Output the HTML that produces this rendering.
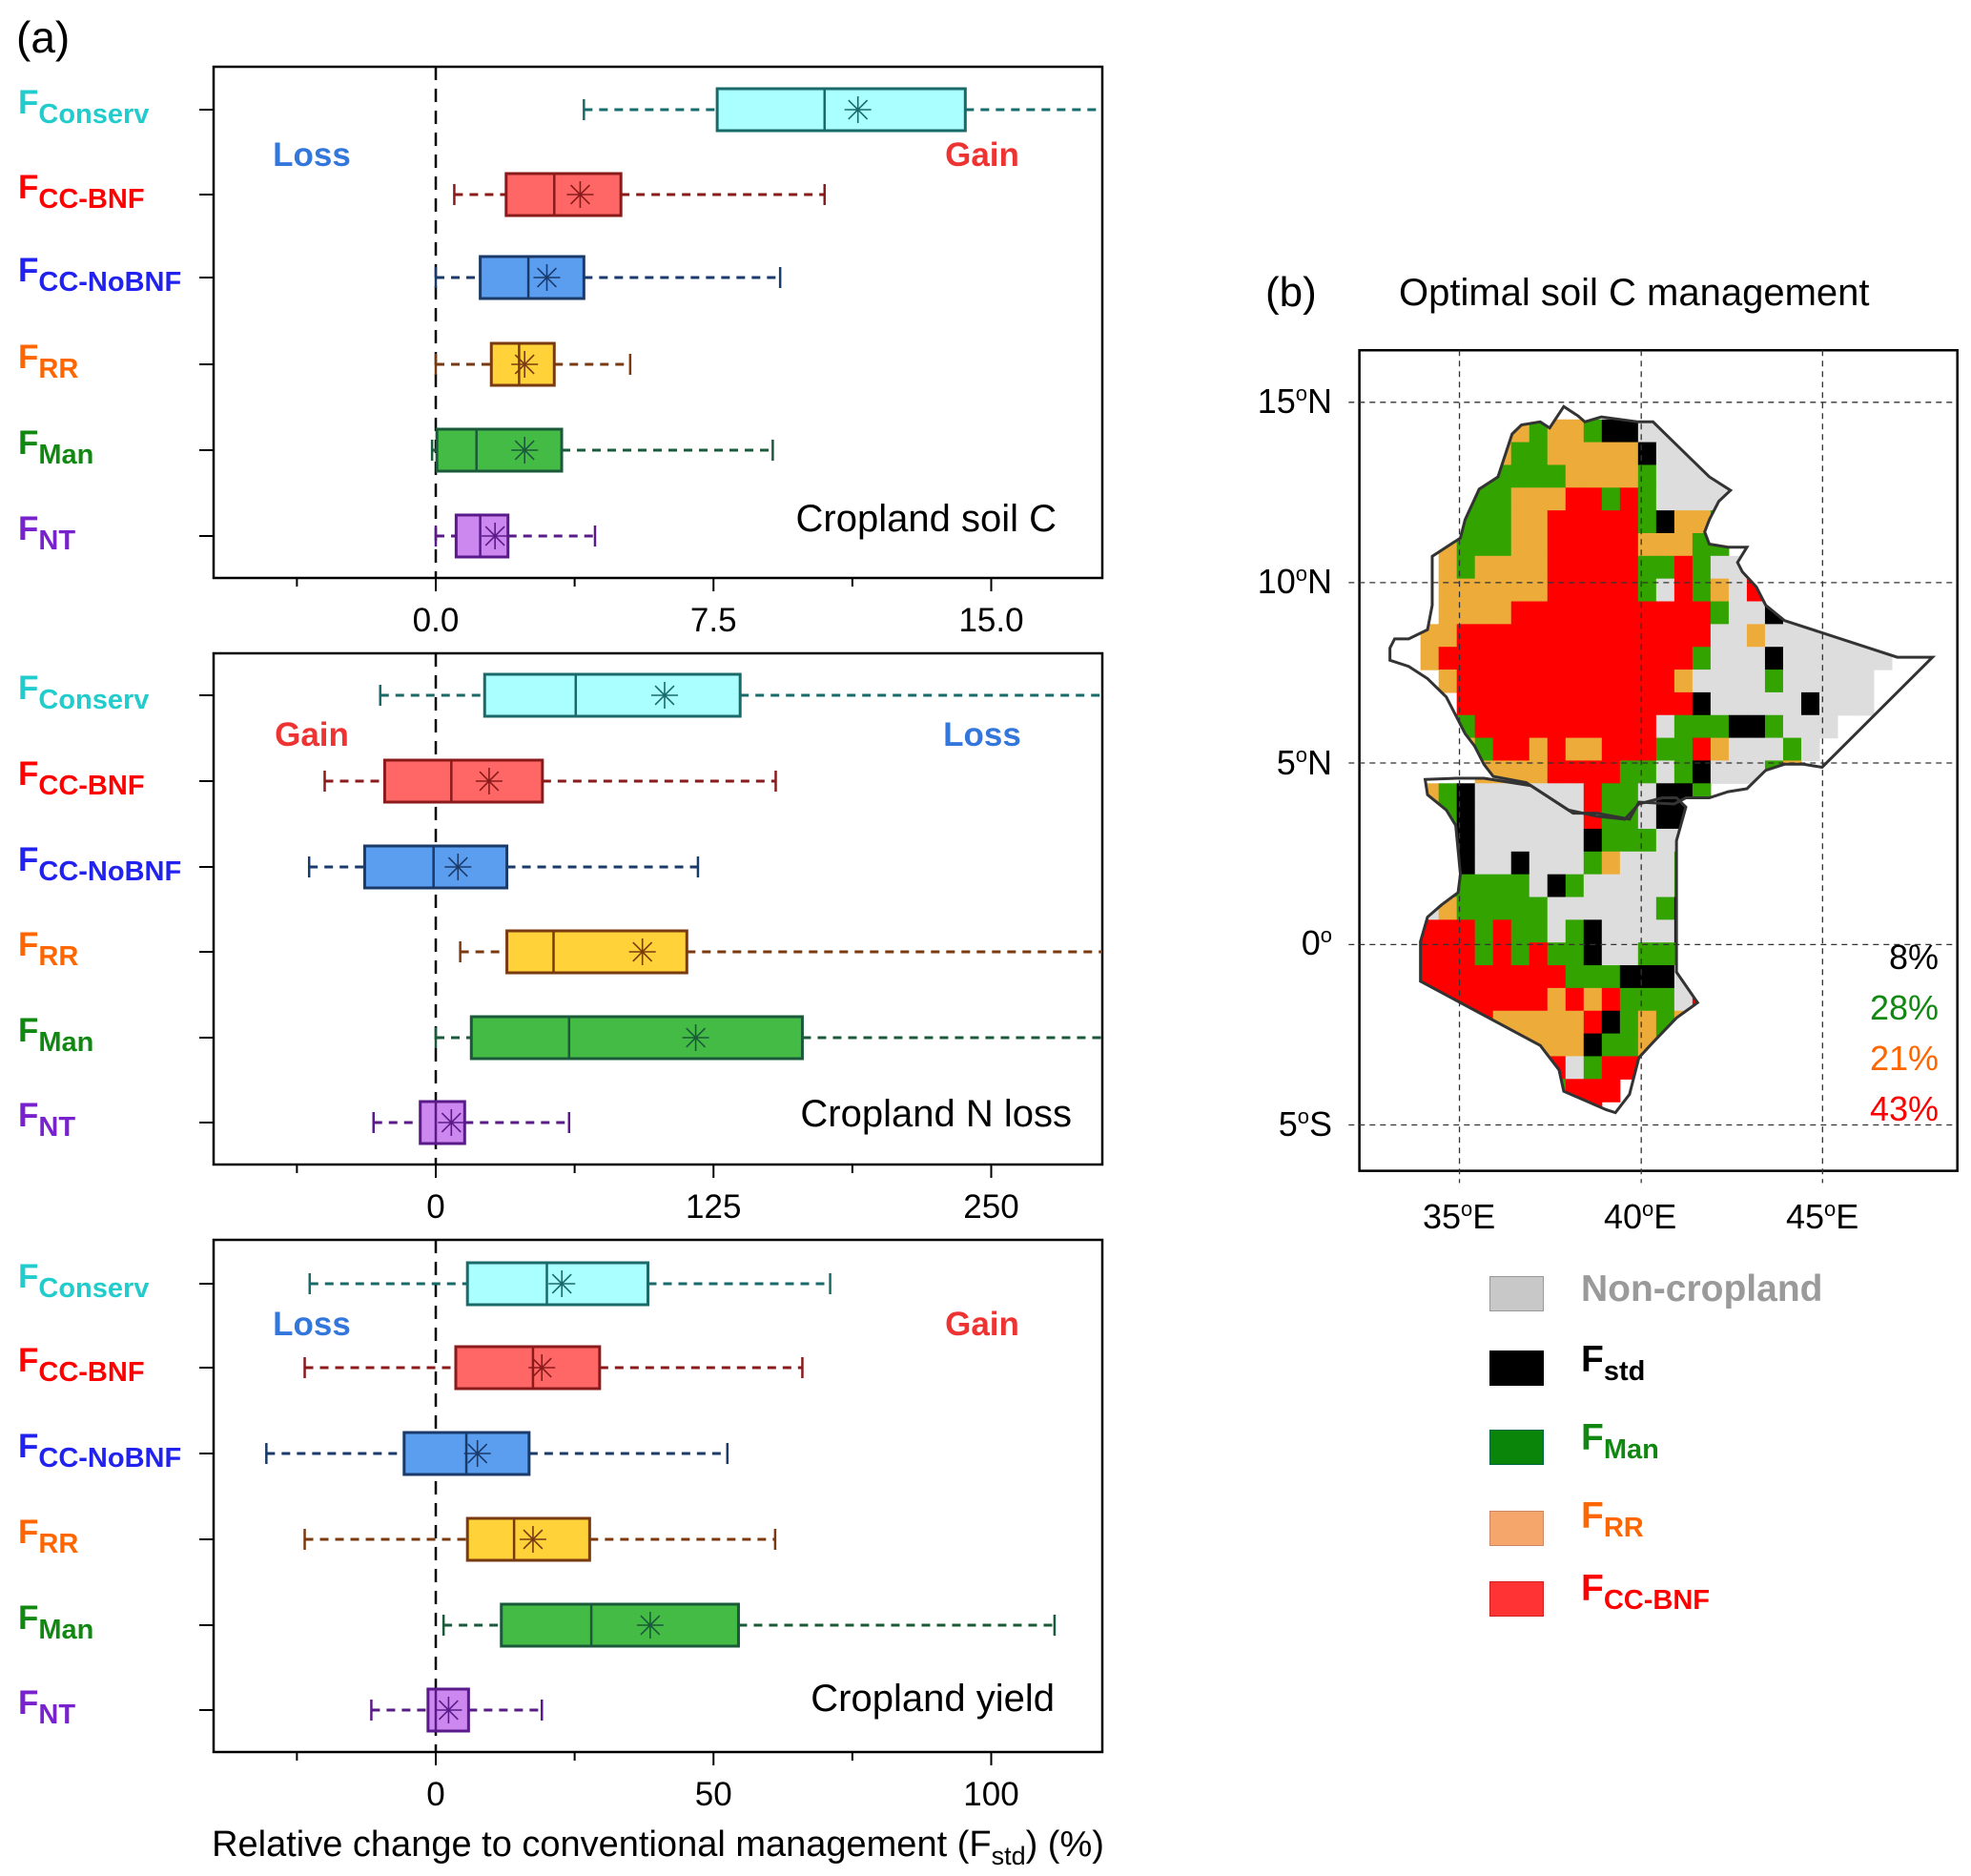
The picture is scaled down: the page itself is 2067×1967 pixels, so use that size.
<!DOCTYPE html>
<html><head><meta charset="utf-8">
<style>
html,body{margin:0;padding:0;background:#fff;}
body{width:2067px;height:1967px;position:relative;overflow:hidden;font-family:"Liberation Sans",Arial,sans-serif;}
svg{position:absolute;left:0;top:0;}
.t{position:absolute;white-space:nowrap;font-family:"Liberation Sans",Arial,sans-serif;}
</style></head>
<body>
<svg id="chart" width="2067" height="1967" viewBox="0 0 2067 1967" font-family="Liberation Sans, Arial, sans-serif"></svg>

<svg id="map" style="left:1300px;top:250px" width="767" height="1000" viewBox="0 0 1557 1560" preserveAspectRatio="none"></svg>

<div class="t" style="left:1327px;top:282px;font-size:44px;">(b)</div>
<div class="t" style="left:1467px;top:285px;font-size:40px;">Optimal soil C management</div>

<div class="t" style="right:670px;top:400px;font-size:36px;">15<sup style="font-size:22px">o</sup>N</div>
<div class="t" style="right:670px;top:589px;font-size:36px;">10<sup style="font-size:22px">o</sup>N</div>
<div class="t" style="right:670px;top:779px;font-size:36px;">5<sup style="font-size:22px">o</sup>N</div>
<div class="t" style="right:670px;top:968px;font-size:36px;">0<sup style="font-size:22px">o</sup></div>
<div class="t" style="right:670px;top:1158px;font-size:36px;">5<sup style="font-size:22px">o</sup>S</div>
<div class="t" style="left:1492px;top:1255px;font-size:36px;">35<sup style="font-size:22px">o</sup>E</div>
<div class="t" style="left:1682px;top:1255px;font-size:36px;">40<sup style="font-size:22px">o</sup>E</div>
<div class="t" style="left:1873px;top:1255px;font-size:36px;">45<sup style="font-size:22px">o</sup>E</div>

<div class="t" style="right:34px;top:983px;font-size:36px;color:#000;">8%</div>
<div class="t" style="right:34px;top:1036px;font-size:36px;color:#118811;">28%</div>
<div class="t" style="right:34px;top:1089px;font-size:36px;color:#ff6600;">21%</div>
<div class="t" style="right:34px;top:1142px;font-size:36px;color:#ff0000;">43%</div>

<div>
<div style="position:absolute;left:1562px;top:1338px;width:57px;height:37px;background:#c8c8c8;border:1px solid #999;box-sizing:border-box"></div>
<div class="t" style="left:1658px;top:1330px;font-size:39px;font-weight:bold;color:#9a9a9a;">Non-cropland</div>
<div style="position:absolute;left:1562px;top:1416px;width:57px;height:37px;background:#000;"></div>
<div class="t" style="left:1658px;top:1404px;font-size:39px;font-weight:bold;color:#000;">F<sub style="font-size:29px">std</sub></div>
<div style="position:absolute;left:1562px;top:1499px;width:57px;height:37px;background:#0a850a;border:1px solid #064;box-sizing:border-box"></div>
<div class="t" style="left:1658px;top:1486px;font-size:39px;font-weight:bold;color:#118811;">F<sub style="font-size:29px">Man</sub></div>
<div style="position:absolute;left:1562px;top:1584px;width:57px;height:37px;background:#f5a66a;border:1px solid #c86;box-sizing:border-box"></div>
<div class="t" style="left:1658px;top:1568px;font-size:39px;font-weight:bold;color:#ff6600;">F<sub style="font-size:29px">RR</sub></div>
<div style="position:absolute;left:1562px;top:1658px;width:57px;height:37px;background:#ff3333;border:1px solid #c22;box-sizing:border-box"></div>
<div class="t" style="left:1658px;top:1644px;font-size:39px;font-weight:bold;color:#ff0000;">F<sub style="font-size:29px">CC-BNF</sub></div>
</div>

<script>
// ---------- chart data ----------
const categories = ["Conserv","CC-BNF","CC-NoBNF","RR","Man","NT"];
const labelColors = ["#22cccc","#ff0000","#2222ee","#ff6600","#118811","#7722cc"];
const fillColors = ["#aaffff","#ff6666","#5b9ef0","#ffd23a","#44bb44","#cc88ee"];
const strokeColors = ["#1a6a6a","#8b1a1a","#1a3a6a","#7a3a10","#1a5a3a","#5a1a8a"];

// Panel 1: Cropland soil C
const soilLow  = [4.0, 0.5, 0.0, 0.0, -0.1, 0.0];
const soilQ1   = [7.6, 1.9, 1.2, 1.5, 0.03, 0.55];
const soilMed  = [10.5, 3.2, 2.5, 2.25, 1.1, 1.2];
const soilMean = [11.4, 3.9, 3.0, 2.4, 2.4, 1.6];
const soilQ3   = [14.3, 5.0, 4.0, 3.2, 3.4, 1.95];
const soilHigh = [20, 10.5, 9.3, 5.25, 9.1, 4.3];
const soilTicks = [-3.75, 0, 3.75, 7.5, 11.25, 15];
const soilTickLabels = ["", "0.0", "", "7.5", "", "15.0"];

// Panel 2: Cropland N loss
const nLow  = [-25, -50, -57, 11, 0, -28];
const nQ1   = [22, -23, -32, 32, 16, -7];
const nMed  = [63, 7, -1, 53, 60, 0];
const nMean = [103, 24, 10, 93, 117, 7];
const nQ3   = [137, 48, 32, 113, 165, 13];
const nHigh = [320, 153, 118, 320, 320, 60];
const nTicks = [-62.5, 0, 62.5, 125, 187.5, 250];
const nTickLabels = ["", "0", "", "125", "", "250"];

// Panel 3: Cropland yield
const yLow  = [-22.7, -23.6, -30.5, -23.6, 1.4, -11.6];
const yQ1   = [5.7, 3.6, -5.7, 5.7, 11.8, -1.4];
const yMed  = [20, 17.5, 5.5, 14.1, 28, 0];
const yMean = [22.7, 19.1, 7.5, 17.5, 38.6, 2.3];
const yQ3   = [38.2, 29.5, 16.8, 27.7, 54.5, 5.9];
const yHigh = [71, 66, 52.5, 61.1, 111.4, 19.1];
const yTicks = [-25, 0, 25, 50, 75, 100];
const yTickLabels = ["", "0", "", "50", "", "100"];

const NS = "http://www.w3.org/2000/svg";
const svg = document.getElementById("chart");
function mk(tag, attrs, parent){ const e=document.createElementNS(NS,tag); for(const k in attrs) e.setAttribute(k,attrs[k]); (parent||svg).appendChild(e); return e; }

const X0 = 224, X1 = 1156;
const panels = [
  {name:"soil-c", top:70, bot:606, vmin:-6, vmax:18, rows:[115,204,291,382,472,562], low:soilLow,q1:soilQ1,med:soilMed,mean:soilMean,q3:soilQ3,high:soilHigh,ticks:soilTicks,tl:soilTickLabels,tly:662,
   title:"Cropland soil C", titleX:1108, titleY:557, left:{t:"Loss",c:"#3377dd"}, right:{t:"Gain",c:"#ee3333"}, ly:174},
  {name:"n-loss", top:685, bot:1221, vmin:-100, vmax:300, rows:[729,819,909,998,1088,1177], low:nLow,q1:nQ1,med:nMed,mean:nMean,q3:nQ3,high:nHigh,ticks:nTicks,tl:nTickLabels,tly:1277,
   title:"Cropland N loss", titleX:1124, titleY:1181, left:{t:"Gain",c:"#ee3333"}, right:{t:"Loss",c:"#3377dd"}, ly:782},
  {name:"yield", top:1300, bot:1837, vmin:-40, vmax:120, rows:[1346,1434,1524,1614,1704,1793], low:yLow,q1:yQ1,med:yMed,mean:yMean,q3:yQ3,high:yHigh,ticks:yTicks,tl:yTickLabels,tly:1893,
   title:"Cropland yield", titleX:1106, titleY:1794, left:{t:"Loss",c:"#3377dd"}, right:{t:"Gain",c:"#ee3333"}, ly:1400}
];

const subNames = {"Conserv":"Conserv","CC-BNF":"CC-BNF","CC-NoBNF":"CC-NoBNF","RR":"RR","Man":"Man","NT":"NT"};

panels.forEach((p,pi)=>{
  const g = mk("g",{});
  
  
  const xs = v => X0 + (v - p.vmin)/(p.vmax - p.vmin)*(X1 - X0);
  const clipId = "clip"+pi;
  const cp = mk("clipPath",{id:clipId},g);
  mk("rect",{x:X0,y:p.top,width:X1-X0,height:p.bot-p.top},cp);

  const fr = mk("rect",{x:X0,y:p.top,width:X1-X0,height:p.bot-p.top,fill:"none",stroke:"#000","stroke-width":2.5},g);
  
  
  const zl = mk("line",{x1:xs(0),x2:xs(0),y1:p.top,y2:p.bot,stroke:"#000","stroke-width":2.5,"stroke-dasharray":"14,9"},g);
  
  
  p.ticks.forEach((t,i)=>{
    const x = xs(t);
    const tk = mk("line",{x1:x,x2:x,y1:p.bot,y2:p.bot+(p.tl[i]?14:9),stroke:"#000","stroke-width":2},g);
    
    
    if(p.tl[i]){
      const tt = mk("text",{x:x,y:p.tly,"text-anchor":"middle","font-size":35,fill:"#000"},g);
      tt.textContent = p.tl[i];
      
      
    }
  });
  categories.forEach((c,i)=>{
    const y = p.rows[i];
    const bg = mk("g",{"clip-path":"url(#"+clipId+")"},g);
    
    
    const sc = strokeColors[i];
    mk("line",{x1:xs(p.low[i]),x2:xs(p.q1[i]),y1:y,y2:y,stroke:sc,"stroke-width":3,"stroke-dasharray":"9,7"},bg);
    mk("line",{x1:xs(p.q3[i]),x2:xs(p.high[i]),y1:y,y2:y,stroke:sc,"stroke-width":3,"stroke-dasharray":"9,7"},bg);
    mk("line",{x1:xs(p.low[i]),x2:xs(p.low[i]),y1:y-11,y2:y+11,stroke:sc,"stroke-width":2.5},bg);
    mk("line",{x1:xs(p.high[i]),x2:xs(p.high[i]),y1:y-11,y2:y+11,stroke:sc,"stroke-width":2.5},bg);
    mk("rect",{x:xs(p.q1[i]),y:y-22,width:xs(p.q3[i])-xs(p.q1[i]),height:44,fill:fillColors[i],stroke:sc,"stroke-width":3},bg);
    mk("line",{x1:xs(p.med[i]),x2:xs(p.med[i]),y1:y-22,y2:y+22,stroke:sc,"stroke-width":2.5},bg);
    const mx = xs(p.mean[i]), r = 14;
    for(let a=0;a<4;a++){
      const ang = a*Math.PI/4 + Math.PI/2;
      mk("line",{x1:mx-r*Math.cos(ang),y1:y-r*Math.sin(ang),x2:mx+r*Math.cos(ang),y2:y+r*Math.sin(ang),stroke:sc,"stroke-width":1.6},bg);
    }
    const yt = mk("line",{x1:209,x2:X0,y1:y,y2:y,stroke:"#000","stroke-width":2},g);
    
    
    const lab = mk("text",{x:19,y:y+4,"font-size":35,"font-weight":"bold",fill:labelColors[i]},g);
    
    
    const t1 = mk("tspan",{},lab); t1.textContent = "F";
    const t2 = mk("tspan",{dy:10,"font-size":29},lab); t2.textContent = subNames[c];
  });
  const lt = mk("text",{x:327,y:p.ly,"text-anchor":"middle","font-size":35,"font-weight":"bold",fill:p.left.c},g);
  lt.textContent = p.left.t;
  
  
  const rt = mk("text",{x:1030,y:p.ly,"text-anchor":"middle","font-size":35,"font-weight":"bold",fill:p.right.c},g);
  rt.textContent = p.right.t;
  
  
  const ti = mk("text",{x:p.titleX,y:p.titleY,"text-anchor":"end","font-size":40,fill:"#000"},g);
  ti.textContent = p.title;
  
  
});

const pa = mk("text",{x:17,y:55,"font-size":46,fill:"#000"});
pa.textContent = "(a)";



const xt = mk("text",{x:690,y:1946,"text-anchor":"middle","font-size":38,fill:"#000"});


const xa = mk("tspan",{},xt); xa.textContent = "Relative change to conventional management (F";
const xb = mk("tspan",{dy:9,"font-size":27},xt); xb.textContent = "std";
const xc = mk("tspan",{dy:-9},xt); xc.textContent = ") (%)";

// ---------- map ----------
const mapRows = [
"....OOGOOGKKWW..............",
"....OGGOOOOOKWWW............",
"...GGGGGOOOOGWWWW...........",
"..GGGOOORRGRGWWWW...........",
"..GGGOORRRRRGKOOG...........",
".OGGGOORRRRROOOGG...........",
".OGOOOORRRRRGGRGWWG.........",
".OOOOOORRRRRGWRGOWRR........",
".OOOORRRRRRRRRRRGWWKW.......",
"OORRRRRRRRRRRRRRWWOWWWWWW...",
"ORRRRRRRRRRRRRRGWWWKWWWWWW..",
".ORRRRRRRRRRRROWWWWGWWWWW...",
"..RRRRRRRRRRRRRKWWWWWKWWW...",
"..GRRRRRRRRRRWGGGKKGWWW.....",
"..OGRROROORRRGGROWWWGW......",
"...OOOORRRRGGWGKWWWGO.......",
"OGKWWWWWWRGGWKKG............",
"KGKWWWWWWRGGWKKG............",
"WGKWWWWWWKGGGWWG............",
"WWKWWKWWWGOWWWGW............",
"WGGGGGWKGWWWWWGW............",
"WOGGGGGWWWWWWGKW............",
"RRRGRGGWGKWWWWKW............",
"RRRGRGRGGKWWGGGW............",
"RRRRRRRRGGGKKKWW............",
"RRRRRRRORORGGGWRO...........",
"RRRROOOOORKGOGOO............",
"RRRRROOOOKGGOGG.............",
"RRRRRRGRWGRRR...............",
"......GGRRR.................",
".......GRR.................."
];
const cellColors = {R:"#ff0000",O:"#edac3a",G:"#33a300",W:"#dddddd",K:"#000000"};
const msvg = document.getElementById("map");
function mm(tag, attrs, parent){ const e=document.createElementNS(NS,tag); for(const k in attrs) e.setAttribute(k,attrs[k]); (parent||msvg).appendChild(e); return e; }
const eth = "690,275 720,290 735,300 770,292 848,300 880,300 920,330 960,360 1000,390 1045,412 1020,430 1000,460 990,480 1000,500 1040,505 1080,505 1060,530 1070,545 1100,570 1120,600 1160,625 1400,685 1475,685 1240,865 1200,860 1160,860 1120,870 1080,900 1040,905 1000,915 950,915 925,925 850,922 830,950 760,940 710,940 640,905 610,890 540,880 520,860 500,830 480,810 460,780 440,750 400,720 360,700 320,690 320,670 330,655 360,655 400,640 410,600 410,520 430,510 470,490 480,460 510,410 550,390 580,320 600,305 640,300 660,310";
const ken = "395,885 460,883 520,883 620,895 700,935 760,945 820,950 850,925 900,915 930,915 950,930 930,985 930,1200 975,1250 930,1275 880,1315 850,1340 830,1400 800,1430 780,1425 690,1395 680,1360 640,1320 385,1215 385,1150 400,1110 430,1090 465,1070 470,1040 460,960 440,935 400,910";
const mcp = mm("clipPath",{id:"mapclip"});
mm("polygon",{points:eth},mcp);
mm("polygon",{points:ken},mcp);
mm("rect",{x:255,y:183,width:1273,height:1342,fill:"none",stroke:"#000","stroke-width":2.5,"vector-effect":"non-scaling-stroke"});
const cells = mm("g",{"clip-path":"url(#mapclip)"});


mapRows.forEach((row,r)=>{
  for(let c=0;c<row.length;c++){
    const ch=row[c]; if(!cellColors[ch]) continue;
    mm("rect",{x:385+38.6*c,y:296+37.2*r,width:39.6,height:38.2,fill:cellColors[ch]},cells);
  }
});
mm("polygon",{points:eth,fill:"none",stroke:"#333","stroke-width":3,"vector-effect":"non-scaling-stroke"});
mm("polygon",{points:ken,fill:"none",stroke:"#333","stroke-width":3,"vector-effect":"non-scaling-stroke"});
[268,563,858,1155,1450].forEach(y=>{
  mm("line",{x1:232,x2:1528,y1:y,y2:y,stroke:"#333","stroke-width":1.3,"stroke-dasharray":"6,5","vector-effect":"non-scaling-stroke"});
});
[468,855,1241].forEach(x=>{
  mm("line",{x1:x,x2:x,y1:183,y2:1545,stroke:"#333","stroke-width":1.3,"stroke-dasharray":"6,5","vector-effect":"non-scaling-stroke"});
});
</script>
</body></html>
